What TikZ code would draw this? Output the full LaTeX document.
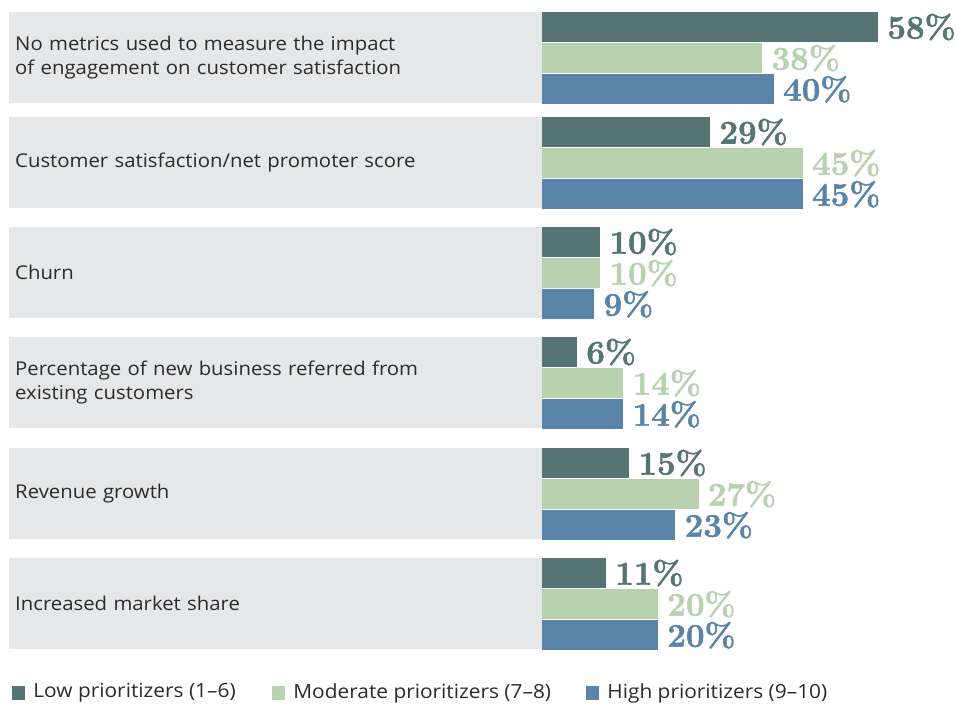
\documentclass[tikz,border=0pt]{standalone}
\usepackage{fontspec}
\usepackage{tikz}
\usetikzlibrary{positioning}
\newfontfamily\catfont[FakeStretch=1.07]{Open Sans}
\newfontfamily\pctfont[BoldFeatures={FakeBold=1.6}]{Latin Modern Roman}
\definecolor{lowc}{HTML}{557473}
\definecolor{modc}{HTML}{B8D1AF}
\definecolor{highc}{HTML}{5A84A7}
\definecolor{bandc}{HTML}{E6E7E8}
\definecolor{txtc}{HTML}{2B2B2B}
\newcommand{\barunit}{5.79pt}

\begin{document}
\begin{tikzpicture}[x=1pt, y=-1pt]
    % Define styles
    \tikzstyle{band} = [rectangle, anchor=north west, fill=bandc, minimum width=534pt, minimum height=91pt, text width=522pt, inner xsep=6pt, inner ysep=0pt, align=left, text=txtc, font=\catfont\fontsize{19}{24}\selectfont]
    \tikzstyle{bar} = [rectangle, anchor=north west, minimum height=29.7pt, inner sep=0pt]
    \tikzstyle{low} = [bar, fill=lowc]
    \tikzstyle{mod} = [bar, fill=modc]
    \tikzstyle{high} = [bar, fill=highc]
    \tikzstyle{pct} = [inner sep=0pt, font=\pctfont\bfseries\fontsize{33}{33}\selectfont]
    \tikzstyle{key} = [rectangle, minimum width=13pt, minimum height=14pt, inner sep=0pt]
    \tikzstyle{keytext} = [inner sep=0pt, text=txtc, font=\catfont\fontsize{19.5}{22}\selectfont]

    \useasboundingbox (0,0) rectangle (958,704);

    % Bands
    \node (band1) [band] at (9,12) {No metrics used to measure the impact\\of engagement on customer satisfaction};
    \node (band2) [band] at (9,117) {Customer satisfaction/net promoter score};
    \node (band3) [band] at (9,227) {Churn};
    \node (band4) [band] at (9,337) {Percentage of new business referred from\\existing customers};
    \node (band5) [band] at (9,448) {Revenue growth};
    \node (band6) [band] at (9,558) {Increased market share};

    % Bars
    \node (low1) [low, minimum width=58*\barunit] at (542,12) {};
    \node (mod1) [mod, minimum width=38*\barunit, below right=1pt and 0pt of low1.south west] {};
    \node (high1) [high, minimum width=40*\barunit, below right=1pt and 0pt of mod1.south west] {};
    \node (low2) [low, minimum width=29*\barunit] at (542,117) {};
    \node (mod2) [mod, minimum width=45*\barunit, below right=1pt and 0pt of low2.south west] {};
    \node (high2) [high, minimum width=45*\barunit, below right=1pt and 0pt of mod2.south west] {};
    \node (low3) [low, minimum width=10*\barunit] at (542,227) {};
    \node (mod3) [mod, minimum width=10*\barunit, below right=1pt and 0pt of low3.south west] {};
    \node (high3) [high, minimum width=9*\barunit, below right=1pt and 0pt of mod3.south west] {};
    \node (low4) [low, minimum width=6*\barunit] at (542,337) {};
    \node (mod4) [mod, minimum width=14*\barunit, below right=1pt and 0pt of low4.south west] {};
    \node (high4) [high, minimum width=14*\barunit, below right=1pt and 0pt of mod4.south west] {};
    \node (low5) [low, minimum width=15*\barunit] at (542,448) {};
    \node (mod5) [mod, minimum width=27*\barunit, below right=1pt and 0pt of low5.south west] {};
    \node (high5) [high, minimum width=23*\barunit, below right=1pt and 0pt of mod5.south west] {};
    \node (low6) [low, minimum width=11*\barunit] at (542,558) {};
    \node (mod6) [mod, minimum width=20*\barunit, below right=1pt and 0pt of low6.south west] {};
    \node (high6) [high, minimum width=20*\barunit, below right=1pt and 0pt of mod6.south west] {};

    % Values
    \node (vlow1) [pct, text=lowc, right=9pt of low1] {58\%};
    \node (vmod1) [pct, text=modc, right=9pt of mod1] {38\%};
    \node (vhigh1) [pct, text=highc, right=9pt of high1] {40\%};
    \node (vlow2) [pct, text=lowc, right=9pt of low2] {29\%};
    \node (vmod2) [pct, text=modc, right=9pt of mod2] {45\%};
    \node (vhigh2) [pct, text=highc, right=9pt of high2] {45\%};
    \node (vlow3) [pct, text=lowc, right=9pt of low3] {10\%};
    \node (vmod3) [pct, text=modc, right=9pt of mod3] {10\%};
    \node (vhigh3) [pct, text=highc, right=9pt of high3] {9\%};
    \node (vlow4) [pct, text=lowc, right=9pt of low4] {6\%};
    \node (vmod4) [pct, text=modc, right=9pt of mod4] {14\%};
    \node (vhigh4) [pct, text=highc, right=9pt of high4] {14\%};
    \node (vlow5) [pct, text=lowc, right=9pt of low5] {15\%};
    \node (vmod5) [pct, text=modc, right=9pt of mod5] {27\%};
    \node (vhigh5) [pct, text=highc, right=9pt of high5] {23\%};
    \node (vlow6) [pct, text=lowc, right=9pt of low6] {11\%};
    \node (vmod6) [pct, text=modc, right=9pt of mod6] {20\%};
    \node (vhigh6) [pct, text=highc, right=9pt of high6] {20\%};

    % Legend
    \node (keylow) [key, fill=lowc] at (18.5,693) {};
    \node (txtlow) [keytext, right=8pt of keylow] {Low prioritizers (1–6)};
    \node (keymod) [key, fill=modc] at (278.5,693) {};
    \node (txtmod) [keytext, right=8pt of keymod] {Moderate prioritizers (7–8)};
    \node (keyhigh) [key, fill=highc] at (592.5,693) {};
    \node (txthigh) [keytext, right=8pt of keyhigh] {High prioritizers (9–10)};
\end{tikzpicture}
\end{document}
